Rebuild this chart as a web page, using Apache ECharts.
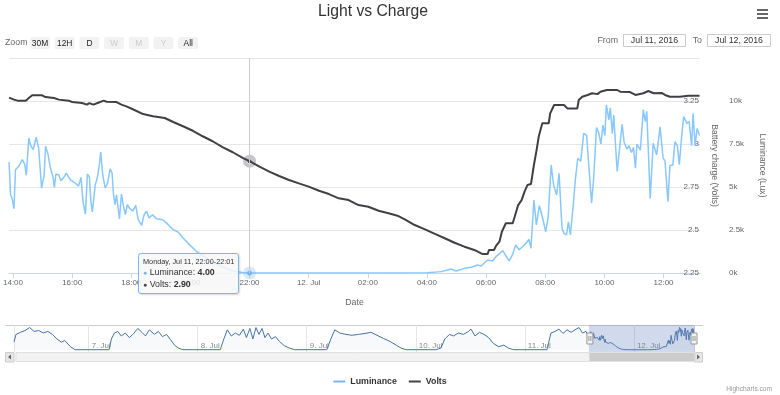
<!DOCTYPE html>
<html><head><meta charset="utf-8">
<script src="https://cdn.jsdelivr.net/npm/echarts@6/dist/echarts.min.js"></script>
<style>html,body{margin:0;padding:0;background:#fff}#c{width:780px;height:395px}</style>
</head><body><div id="c"></div>
<script>
const FONT = '"Liberation Sans", Arial, Helvetica, sans-serif';

// ---- data (day hh:mm, July 2016) ----
const chartTitle = 'Light vs Charge';
const seriesNames = ['Luminance', 'Volts'];
const luminance = [
['11 13:52',6450],['11 13:55',4550],['11 13:58',4360],['11 14:02',3740],['11 14:05',6000],['11 14:12',6220],
['11 14:19',6590],['11 14:24',6300],['11 14:27',5680],['11 14:32',7850],['11 14:36',7400],['11 14:41',7170],
['11 14:47',7890],['11 14:52',7270],['11 14:58',4940],['11 15:03',5640],['11 15:06',7370],['11 15:11',6900],
['11 15:16',6100],['11 15:21',5600],['11 15:24',4980],['11 15:27',5760],['11 15:33',5700],['11 15:37',5370],
['11 15:43',5550],['11 15:48',5810],['11 15:56',5430],['11 16:06',5230],['11 16:13',5050],['11 16:18',5560],
['11 16:22',4150],['11 16:27',3430],['11 16:31',5760],['11 16:35',5570],['11 16:38',4150],['11 16:41',3550],
['11 16:47',5140],['11 16:51',5520],['11 16:55',6260],['11 16:58',7030],['11 17:02',5720],['11 17:07',4940],
['11 17:12',5230],['11 17:17',6060],['11 17:21',5810],['11 17:24',4550],['11 17:27',3970],['11 17:30',4550],
['11 17:36',3140],['11 17:40',4590],['11 17:44',3900],['11 17:48',3400],['11 17:52',3970],['11 17:57',3750],
['11 18:03',3600],['11 18:09',3930],['11 18:14',3100],['11 18:21',2770],['11 18:26',3390],['11 18:31',3590],
['11 18:36',3200],['11 18:43',3390],['11 18:51',3160],['11 19:04',3100],['11 19:15',2810],['11 19:25',2520],
['11 19:35',2380],['11 19:45',2030],['11 19:58',1650],['11 20:12',1260],['11 20:25',990],['11 20:45',640],
['11 21:06',350],['11 21:26',120],['11 21:46',30],['11 22:00',4],['11 23:00',0],['12 00:00',0],['12 01:00',0],
['12 02:00',0],['12 03:00',0],['12 04:00',10],['12 04:29',80],['12 04:49',230],['12 04:59',120],['12 05:16',270],
['12 05:30',330],['12 05:43',465],['12 05:50',410],['12 06:03',756],['12 06:13',700],['12 06:20',950],
['12 06:34',1300],['12 06:40',1000],['12 06:47',700],['12 06:54',1100],['12 07:00',1630],['12 07:07',1350],
['12 07:14',1530],['12 07:21',1730],['12 07:27',1960],['12 07:31',1440],['12 07:37',4240],['12 07:42',2790],
['12 07:48',3930],['12 07:54',3270],['12 08:01',2400],['12 08:06',3270],['12 08:12',6280],['12 08:17',5120],
['12 08:23',4530],['12 08:28',5800],['12 08:34',2600],['12 08:38',2300],['12 08:43',2210],['12 08:47',2980],
['12 08:51',2210],['12 08:57',4000],['12 09:01',5410],['12 09:06',6670],['12 09:12',6500],['12 09:18',8120],
['12 09:24',8000],['12 09:28',6380],['12 09:34',4070],['12 09:38',5400],['12 09:44',8450],['12 09:48',8200],
['12 09:53',7500],['12 09:57',8600],['12 10:01',8000],['12 10:04',9770],['12 10:09',8900],['12 10:12',9600],
['12 10:16',8100],['12 10:19',9190],['12 10:22',7700],['12 10:26',5900],['12 10:31',7300],['12 10:36',8650],
['12 10:40',7600],['12 10:46',7200],['12 10:50',7400],['12 10:55',7000],['12 10:59',7300],['12 11:03',6090],
['12 11:06',7500],['12 11:13',7150],['12 11:19',9500],['12 11:23',8800],['12 11:26',9400],['12 11:33',4340],
['12 11:39',7540],['12 11:46',6860],['12 11:53',8500],['12 11:59',6700],['12 12:03',6500],['12 12:09',4150],
['12 12:13',6250],['12 12:19',6280],['12 12:23',7630],['12 12:28',7400],['12 12:32',6300],['12 12:37',8020],
['12 12:41',9100],['12 12:47',8700],['12 12:52',8800],['12 12:57',7400],['12 13:00',9290],['12 13:04',7400],
['12 13:08',8400],['12 13:13',8000]
];
const volts = [
['11 13:52',3.27],['11 14:02',3.258],['11 14:09',3.252],['11 14:26',3.252],['11 14:32',3.267],['11 14:39',3.283],
['11 14:59',3.283],['11 15:06',3.273],['11 15:23',3.267],['11 15:33',3.258],['11 15:53',3.252],['11 16:00',3.244],
['11 16:20',3.238],['11 16:30',3.229],['11 16:35',3.238],['11 16:43',3.229],['11 16:53',3.24],['11 17:04',3.252],
['11 17:10',3.246],['11 17:30',3.244],['11 17:40',3.229],['11 17:50',3.219],['11 18:01',3.205],['11 18:04',3.194],
['11 18:24',3.174],['11 18:44',3.161],['11 19:08',3.151],['11 19:25',3.128],['11 19:45',3.103],['11 20:05',3.077],
['11 20:25',3.045],['11 20:45',3.016],['11 21:06',2.981],['11 21:26',2.952],['11 21:46',2.919],['11 22:00',2.90],
['11 22:20',2.868],['11 22:40',2.839],['11 23:00',2.814],['11 23:20',2.791],['11 23:40',2.771],['12 00:00',2.752],
['12 00:21',2.728],['12 00:41',2.709],['12 01:01',2.684],['12 01:21',2.674],['12 01:41',2.645],['12 02:01',2.635],
['12 02:22',2.612],['12 02:42',2.597],['12 03:02',2.581],['12 03:15',2.562],['12 03:35',2.529],['12 03:56',2.504],
['12 04:16',2.477],['12 04:36',2.452],['12 04:56',2.426],['12 05:16',2.403],['12 05:36',2.384],['12 05:53',2.36],
['12 06:03',2.36],['12 06:06',2.384],['12 06:16',2.384],['12 06:20',2.407],['12 06:27',2.432],['12 06:32',2.49],
['12 06:40',2.539],['12 06:54',2.539],['12 06:58',2.577],['12 07:05',2.645],['12 07:12',2.674],['12 07:18',2.723],
['12 07:24',2.762],['12 07:31',2.767],['12 07:37',2.878],['12 07:43',2.975],['12 07:47',3.047],['12 07:54',3.12],
['12 08:07',3.12],['12 08:10',3.178],['12 08:18',3.227],['12 08:38',3.227],['12 08:45',3.207],['12 09:05',3.207],
['12 09:08',3.256],['12 09:15',3.275],['12 09:26',3.285],['12 09:35',3.295],['12 09:46',3.29],['12 09:52',3.304],
['12 10:05',3.314],['12 10:26',3.314],['12 10:32',3.304],['12 10:52',3.302],['12 11:03',3.285],['12 11:19',3.295],
['12 11:29',3.308],['12 11:40',3.295],['12 11:56',3.297],['12 12:03',3.285],['12 12:13',3.275],['12 12:33',3.275],
['12 12:50',3.281],['12 13:13',3.281]
];
// navigator history before the selected window (luminance)
const navHistory = [
['6 07:34',3300],['6 08:00',6700],['6 09:00',7600],['6 10:00',8400],['6 11:00',9700],['6 12:00',8000],['6 13:00',8400],
['6 14:00',7300],['6 15:00',8000],['6 16:00',6700],['6 17:00',4700],['6 18:00',3300],['6 18:45',4000],['6 20:00',1300],['6 21:00',0],
['7 04:30',0],['7 05:00',4700],['7 05:40',7300],['7 06:25',8000],['7 07:10',6000],['7 08:04',7300],['7 08:57',5300],['7 09:44',6700],
['7 10:50',9300],['7 11:43',7600],['7 12:30',6000],['7 13:22',8700],['7 14:28',6700],['7 15:21',8000],['7 16:15',5700],['7 17:08',6700],
['7 18:01',4400],['7 18:54',2000],['7 19:47',700],['7 20:46',0],
['8 04:58',0],['8 05:45',4700],['8 06:31',8700],['8 07:24',6000],['8 08:17',7300],['8 09:10',6300],['8 10:03',9000],['8 10:43',5300],
['8 11:29',9300],['8 12:09',4700],['8 12:49',9700],['8 13:29',6700],['8 14:09',9300],['8 14:48',5300],['8 15:28',7300],['8 16:14',4700],
['8 17:07',5700],['8 18:00',3600],['8 19:07',1700],['8 20:13',700],['8 21:19',0],
['9 04:25',0],['9 05:18',4700],['9 06:11',8700],['9 07:17',7300],['9 08:37',6700],['9 09:57',6300],['9 11:23',6700],['9 12:49',7100],
['9 14:08',7600],['9 15:28',6300],['9 16:55',4900],['9 18:21',3600],['9 19:41',2000],['9 20:47',700],['9 21:53',0],
['10 04:25',0],['10 05:31',700],['10 06:24',4700],['10 07:24',6700],['10 08:17',6000],['10 09:23',7300],['10 10:29',6700],['10 11:36',8000],
['10 12:09',9000],['10 13:02',6000],['10 14:02',7600],['10 15:01',6700],['10 16:01',5300],['10 17:07',2700],['10 18:13',1300],['10 19:20',2000],
['10 20:26',700],['10 21:32',0],
['11 04:52',0],['11 05:45',7300],['11 06:38',8000],['11 07:31',9000],['11 08:24',7100],['11 09:17',8700],['11 10:10',7600],['11 11:03',8700],
['11 11:56',9700],['11 12:42',7300],['11 13:29',8000]
];
const navStart = '6 07:34', windowStart = '11 13:52', windowEnd = '12 13:14';
const tipTime = '11 22:00';
const zoomButtons = ['30M','12H','D','W','M','Y','All'];
const disabledButtons = ['W','M','Y'];
const rangeFrom = 'Jul 11, 2016', rangeTo = 'Jul 12, 2016';
const voltTicks = {min: 2.25, max: 3.5, step: 0.25};
const luxTicks = {min: 0, max: 12500, step: 2500};

// ---- helpers ----
function t(s){ const p = s.split(' '); const hm = p[1].split(':'); return new Date(2016, 6, +p[0], +hm[0], +hm[1]).getTime(); }
const pad = n => String(n).padStart(2, '0');
const lumData = luminance.map(p => [t(p[0]), p[1]]);
const voltData = volts.map(p => [t(p[0]), p[1]]);
const navData = navHistory.map(p => [t(p[0]), p[1]]).concat(lumData);
const DAYS = ['Sunday','Monday','Tuesday','Wednesday','Thursday','Friday','Saturday'];
const MONS = ['Jan','Feb','Mar','Apr','May','Jun','Jul','Aug','Sep','Oct','Nov','Dec'];
const HOUR = 3600000;

const chart = echarts.init(document.getElementById('c'), null, {renderer: 'canvas'});

// UI graphics (range selector, inputs, menu, credits)
const ui = [];
ui.push({type:'text', x:5, y:43, style:{text:'Zoom', font:'8.8px '+FONT, fill:'#666', verticalAlign:'middle'}});
zoomButtons.forEach((b, i) => {
  const x = 30 + i * 24.7;
  ui.push({type:'rect', shape:{x:x, y:37, width:20, height:12, r:2}, style:{fill:'#f2f2f2'}});
  ui.push({type:'text', x:x+10, y:43.5, style:{text:b, font:'8.4px '+FONT, fill: disabledButtons.includes(b) ? '#cccccc' : '#222', align:'center', verticalAlign:'middle'}});
});
ui.push({type:'text', x:618, y:41, style:{text:'From', font:'8.8px '+FONT, fill:'#666', align:'right', verticalAlign:'middle'}});
ui.push({type:'rect', shape:{x:623.5, y:34.5, width:62, height:12}, style:{fill:'#fff', stroke:'#cccccc', lineWidth:1}});
ui.push({type:'text', x:654.5, y:41, style:{text:rangeFrom, font:'8.8px '+FONT, fill:'#333', align:'center', verticalAlign:'middle'}});
ui.push({type:'text', x:702, y:41, style:{text:'To', font:'8.8px '+FONT, fill:'#666', align:'right', verticalAlign:'middle'}});
ui.push({type:'rect', shape:{x:707.5, y:34.5, width:63, height:12}, style:{fill:'#fff', stroke:'#cccccc', lineWidth:1}});
ui.push({type:'text', x:739, y:41, style:{text:rangeTo, font:'8.8px '+FONT, fill:'#333', align:'center', verticalAlign:'middle'}});
[9, 13, 17].forEach(y => ui.push({type:'rect', shape:{x:757, y:y, width:11, height:2}, style:{fill:'#666'}}));
ui.push({type:'text', x:772, y:389, style:{text:'Highcharts.com', font:'6.6px '+FONT, fill:'#999', align:'right', verticalAlign:'middle'}});
ui.push({type:'text', x:373, y:12, style:{text:chartTitle, font:'15.7px '+FONT, fill:'#333', align:'center', verticalAlign:'middle'}});
// navigator outline and scrollbar buttons
ui.push({type:'line', shape:{x1:5, y1:325.5, x2:703, y2:325.5}, style:{stroke:'#cccccc', lineWidth:1}});
ui.push({type:'rect', shape:{x:5.5, y:352.5, width:8.5, height:9.5}, style:{fill:'#e6e6e6', stroke:'#cccccc', lineWidth:1}});
ui.push({type:'polygon', shape:{points:[[11,354.5],[11,359.5],[8,357]]}, style:{fill:'#666'}});
ui.push({type:'rect', shape:{x:694, y:352.5, width:8.5, height:9.5}, style:{fill:'#e6e6e6', stroke:'#cccccc', lineWidth:1}});
ui.push({type:'polygon', shape:{points:[[697,354.5],[697,359.5],[700,357]]}, style:{fill:'#666'}});

function timeLabel(v){
  const d = new Date(v); const h = d.getHours(), m = d.getMinutes();
  if (m !== 0 || h % 2) return '';
  if (h === 0) return d.getDate() + '. ' + MONS[d.getMonth()];
  return pad(h) + ':00';
}
function dayLabel(v){
  const d = new Date(v);
  if (d.getHours() !== 0 || d.getMinutes() !== 0) return '';
  return d.getDate() + '. ' + MONS[d.getMonth()];
}

const option = {
  animation: false,
  textStyle: {fontFamily: FONT},
  graphic: ui,
  legend: {
    data: seriesNames, top: 372, left: 'center', icon: 'rect', itemWidth: 12, itemHeight: 2, itemGap: 12,
    textStyle: {fontSize: 8.8, fontWeight: 'bold', color: '#333', fontFamily: FONT}
  },
  grid: [
    {left: 5, right: 80, top: 58, height: 215},
    {left: 14, right: 86, top: 325, height: 27}
  ],
  xAxis: [
    {type: 'time', gridIndex: 0, min: t(navStart), max: t(windowEnd),
     minInterval: 2.1 * HOUR, maxInterval: 2.8 * HOUR,
     name: 'Date', nameLocation: 'middle', nameGap: 25, nameTextStyle: {color: '#666', fontSize: 8.8, fontFamily: FONT},
     axisLine: {lineStyle: {color: '#ccd6eb'}}, axisTick: {show: true, length: 5, lineStyle: {color: '#ccd6eb'}},
     splitLine: {show: false},
     axisLabel: {formatter: timeLabel, color: '#666', fontSize: 8, margin: 6, fontFamily: FONT}},
    {type: 'time', gridIndex: 1, min: t(navStart), max: t(windowEnd),
     minInterval: 24 * HOUR, maxInterval: 24 * HOUR,
     axisLine: {show: false}, axisTick: {show: false},
     splitLine: {show: true, lineStyle: {color: '#e6e6e6'}},
     axisLabel: {formatter: dayLabel, inside: true, align: 'left', margin: 2, padding: [0,0,0,3], color: '#888', fontSize: 8, fontFamily: FONT}}
  ],
  yAxis: [
    {type: 'value', gridIndex: 0, position: 'right', offset: 21, min: luxTicks.min, max: luxTicks.max, interval: luxTicks.step,
     name: 'Luminance (Lux)', nameLocation: 'middle', nameRotate: -90, nameGap: 37,
     nameTextStyle: {color: '#666', fontSize: 8.6, fontFamily: FONT},
     axisLine: {show: false}, axisTick: {show: false}, splitLine: {show: false},
     axisLabel: {formatter: v => (v / 1000) + 'k', margin: 8, color: '#666', fontSize: 8, showMaxLabel: false,
                 verticalAlign: 'middle', padding: [0,0,8,0], fontFamily: FONT}},
    {type: 'value', gridIndex: 0, position: 'right', min: voltTicks.min, max: voltTicks.max, interval: voltTicks.step,
     name: 'Battery charge (Volts)', nameLocation: 'middle', nameRotate: -90, nameGap: 8,
     nameTextStyle: {color: '#666', fontSize: 8.6, fontFamily: FONT},
     axisLine: {show: false}, axisTick: {show: false},
     splitLine: {show: true, lineStyle: {color: '#e6e6e6', width: 1}},
     axisLabel: {inside: true, margin: 1, color: '#666', fontSize: 8, showMaxLabel: false,
                 verticalAlign: 'middle', padding: [0,0,8,0], fontFamily: FONT}},
    {type: 'value', gridIndex: 1, min: -1000, max: 10800, show: false}
  ],
  dataZoom: [
    {type: 'slider', xAxisIndex: 0, filterMode: 'none', startValue: t(windowStart), endValue: t(windowEnd),
     left: 14, right: 86, top: 325, height: 27, showDataShadow: false, showDetail: false, brushSelect: false,
     backgroundColor: 'rgba(0,0,0,0)', borderColor: 'rgba(0,0,0,0)', borderRadius: 0,
     fillerColor: 'rgba(102,133,194,0.3)', moveHandleSize: 0,
     handleIcon: 'path://M0,0 L6,0 L6,11 L0,11 Z M2,3 L2,8 M4,3 L4,8', handleSize: 11,
     handleStyle: {color: '#f2f2f2', borderColor: '#999999', borderWidth: 1}},
    {type: 'slider', xAxisIndex: 0, filterMode: 'none', startValue: t(windowStart), endValue: t(windowEnd),
     left: 14, right: 86, top: 352, height: 10, showDataShadow: false, showDetail: false, brushSelect: false,
     backgroundColor: '#f2f2f2', borderColor: '#e0e0e0', borderRadius: 0,
     fillerColor: '#cccccc', moveHandleSize: 0,
     handleIcon: 'path://M0,0 L1,0 L1,1 L0,1 Z', handleSize: '100%',
     handleStyle: {color: 'rgba(0,0,0,0)', borderColor: 'rgba(0,0,0,0)'}}
  ],
  tooltip: {
    trigger: 'axis', triggerOn: 'none', alwaysShowContent: true, transitionDuration: 0,
    axisPointer: {type: 'line', animation: false, lineStyle: {color: '#cccccc', width: 1, type: 'solid'}, label: {show: false}},
    backgroundColor: 'rgba(247,247,247,0.85)', borderColor: '#7cb5ec', borderWidth: 1, padding: [3, 4],
    textStyle: {color: '#333', fontSize: 8.8, fontFamily: FONT},
    extraCssText: 'border-radius:3px;box-shadow:1px 1px 2px rgba(0,0,0,0.15);',
    position: (pt, params, dom, rect, size) => [pt[0] - size.contentSize[0] - 11, pt[1] - 20],
    formatter: params => {
      const d = new Date(params[0].value[0]); const e = new Date(d.getTime() + 60000);
      const hm = x => pad(x.getHours()) + ':' + pad(x.getMinutes());
      let s = '<div style="font-size:7.3px;line-height:10px">' + DAYS[d.getDay()] + ', ' + MONS[d.getMonth()] + ' ' + d.getDate() + ', ' + hm(d) + '-' + hm(e) + '</div>';
      params.forEach(p => {
        s += '<div style="font-size:8.8px;line-height:10.5px"><span style="color:' + p.color + ';font-size:7px">\u25CF</span> ' + p.seriesName + ': <b>' + p.value[1].toFixed(2) + '</b></div>';
      });
      return s;
    }
  },
  series: [
    {name: seriesNames[0], type: 'line', xAxisIndex: 0, yAxisIndex: 0, data: lumData, showSymbol: false,
     symbol: 'circle', symbolSize: 5, z: 3,
     lineStyle: {color: '#7cb5ec', width: 1.5}, itemStyle: {color: '#7cb5ec'},
     emphasis: {scale: false, lineStyle: {width: 1.5}, itemStyle: {color: '#7cb5ec', borderColor: 'rgba(124,181,236,0.3)', borderWidth: 8}}},
    {name: seriesNames[1], type: 'line', xAxisIndex: 0, yAxisIndex: 1, data: voltData, showSymbol: false,
     symbol: 'circle', symbolSize: 4, z: 4,
     lineStyle: {color: '#3a3a3f', width: 2}, itemStyle: {color: '#434348'},
     emphasis: {scale: false, lineStyle: {width: 2}, itemStyle: {color: '#434348', borderColor: 'rgba(67,67,72,0.3)', borderWidth: 9}}},
    {name: 'navigator', type: 'line', xAxisIndex: 1, yAxisIndex: 2, data: navData, showSymbol: false, silent: true,
     lineStyle: {color: '#4572A7', width: 1}, areaStyle: {color: 'rgba(69,114,167,0.06)'},
     emphasis: {disabled: true}, tooltip: {show: false}}
  ]
};
chart.setOption(option);

// scrollbar grip at the thumb centre
const c0 = chart.convertToPixel({xAxisIndex: 1}, (t(windowStart) + t(windowEnd)) / 2);
ui.push({type:'group', children: [-2, 0, 2].map(dx => ({type:'line', shape:{x1:c0+dx+0.5, y1:354.5, x2:c0+dx+0.5, y2:359.5}, style:{stroke:'#666', lineWidth:0.8}}))});
chart.setOption({graphic: ui});

const px = chart.convertToPixel({seriesIndex: 0}, [t(tipTime), 4]);
chart.dispatchAction({type: 'showTip', x: px[0], y: px[1]});
</script></body></html>
